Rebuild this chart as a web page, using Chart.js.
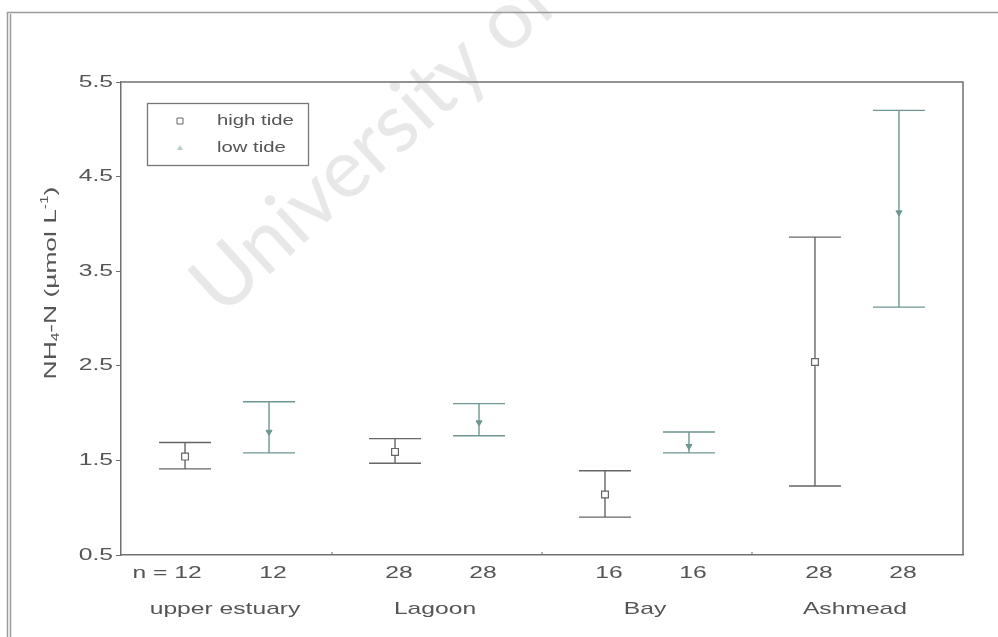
<!DOCTYPE html>
<html>
<head>
<meta charset="utf-8">
<script src="https://cdn.jsdelivr.net/npm/chart.js@4"></script>
<style>
    html, body { margin: 0; padding: 0; background: #fff; }
    #wrap { width: 998px; height: 637px; }
</style>
</head>
<body>
<div id="wrap"><canvas id="chart" width="998" height="637"></canvas></div>
<script>
// --- DATA ---
const sites = ['upper estuary', 'Lagoon', 'Bay', 'Ashmead'];
const nHigh = [12, 28, 16, 28];
const nLow = [12, 28, 16, 28];

const highMean = [1.54, 1.59, 1.14, 2.54];
const highLower = [1.41, 1.47, 0.90, 1.23];
const highUpper = [1.69, 1.73, 1.39, 3.86];

const lowMean = [1.80, 1.90, 1.65, 4.12];
const lowLower = [1.58, 1.76, 1.58, 3.12];
const lowUpper = [2.12, 2.10, 1.80, 5.20];

const yTicks = [0.5, 1.5, 2.5, 3.5, 4.5, 5.5];

// --- STYLE ---
const FONT = "'Liberation Sans', Arial, sans-serif";
const TEXT = '#555';
const AXIS = '#707070';
const HIGH = '#666666';
const LOW = '#6e9792';
const OFFSET = 0.4;   // low tide sits right of high tide inside a site
const CAP = 26;       // half width of the error bar caps, px
const SX = 1.45;      // the scanned lettering is wide, stretch it sideways

const highPts = highMean.map((v, i) => ({ x: i + 1, y: v }));
const lowPts = lowMean.map((v, i) => ({ x: i + 1 + OFFSET, y: v }));

// text drawn wider than the font, to match the scan
function wideText(ctx, text, x, y, align, size, sx = SX) {
    ctx.save();
    ctx.font = size + 'px ' + FONT;
    const w = ctx.measureText(text).width * sx;
    const left = align === 'center' ? x - w / 2 : align === 'right' ? x - w : x;
    ctx.translate(left, y);
    ctx.scale(sx, 1);
    ctx.textAlign = 'left';
    ctx.fillText(text, 0, 0);
    ctx.restore();
    return w;
}

// error bars, drawn under the markers
const errorBars = {
    id: 'errorBars',
    beforeDatasetsDraw(chart) {
        const { ctx, scales: { x, y } } = chart;
        const draw = (pos, lo, hi, color) => {
            const px = x.getPixelForValue(pos);
            const yl = y.getPixelForValue(lo);
            const yh = y.getPixelForValue(hi);
            ctx.beginPath();
            ctx.moveTo(px, yl); ctx.lineTo(px, yh);
            ctx.moveTo(px - CAP, yl); ctx.lineTo(px + CAP, yl);
            ctx.moveTo(px - CAP, yh); ctx.lineTo(px + CAP, yh);
            ctx.strokeStyle = color;
            ctx.lineWidth = 1.4;
            ctx.stroke();
        };
        ctx.save();
        sites.forEach((s, i) => {
            draw(i + 1, highLower[i], highUpper[i], HIGH);
            draw(i + 1 + OFFSET, lowLower[i], lowUpper[i], LOW);
        });
        ctx.restore();
    }
};

// frame, labels, legend, title
const decorations = {
    id: 'decorations',
    beforeDraw(chart) {
        const { ctx } = chart;
        ctx.save();
        // faint watermark of the scanned thesis
        ctx.translate(222, 318);
        ctx.rotate(-0.74);
        ctx.font = "82px Lato, 'Open Sans', sans-serif";
        ctx.fillStyle = '#e8e8e8';
        ctx.textBaseline = 'alphabetic';
        ctx.fillText('University of Cape Town', 0, 0);
        ctx.restore();

        // outer frame (cropped on right and bottom)
        ctx.save();
        ctx.strokeStyle = '#9a9a9a';
        ctx.lineWidth = 1.5;
        ctx.beginPath();
        ctx.moveTo(7.5, 637); ctx.lineTo(7.5, 12.5); ctx.lineTo(998, 12.5);
        ctx.moveTo(10.5, 637); ctx.lineTo(10.5, 14);
        ctx.stroke();
        ctx.restore();
    },
    afterDraw(chart) {
        const { ctx, chartArea: a, scales: { x, y } } = chart;
        ctx.save();

        // top and right sides of the plot box
        ctx.strokeStyle = AXIS;
        ctx.lineWidth = 1.5;
        ctx.beginPath();
        ctx.moveTo(a.left, a.top); ctx.lineTo(a.right, a.top); ctx.lineTo(a.right, a.bottom);
        ctx.stroke();

        // small separators between sites on the bottom axis
        ctx.lineWidth = 1;
        sites.slice(1).forEach((s, i) => {
            const px = x.getPixelForValue(i + 1 + OFFSET + 0.3);
            ctx.beginPath();
            ctx.moveTo(px, a.bottom - 3); ctx.lineTo(px, a.bottom);
            ctx.stroke();
        });

        ctx.fillStyle = TEXT;
        ctx.textBaseline = 'middle';

        // y tick labels
        y.ticks.forEach(t => {
            wideText(ctx, Number(t.value).toFixed(1), a.left - 8, y.getPixelForValue(t.value), 'right', 17);
        });

        // n labels and site names
        sites.forEach((s, i) => {
            const ph = x.getPixelForValue(i + 1);
            const pl = x.getPixelForValue(i + 1 + OFFSET);
            const hText = String(nHigh[i]);
            if (i === 0) {
                ctx.font = '17px ' + FONT;
                const half = ctx.measureText(hText).width * SX / 2;
                wideText(ctx, 'n = ' + hText, ph + 3 + half, 573, 'right', 17);
            } else {
                wideText(ctx, hText, ph + 4, 573, 'center', 17);
            }
            wideText(ctx, String(nLow[i]), pl + 4, 573, 'center', 17);
            wideText(ctx, s, (ph + pl) / 2 - 2, 609, 'center', 17);
        });

        // y axis title: NH4-N (µmol L-1)
        ctx.save();
        ctx.translate(51, 283);
        ctx.rotate(-Math.PI / 2);
        const parts = [
            ['NH', 17, 0], ['4', 10, 5], ['-N (µmol L', 17, 0], ['-1', 10, -6], [')', 17, 0]
        ];
        const ts = 1.55;
        let total = 0;
        parts.forEach(p => { ctx.font = p[1] + 'px ' + FONT; total += ctx.measureText(p[0]).width * ts; });
        let cx = -total / 2;
        parts.forEach(p => {
            cx += wideText(ctx, p[0], cx, p[2], 'left', p[1], ts);
        });
        ctx.restore();
        ctx.restore();

        // legend box inside the plot
        ctx.save();
        ctx.strokeStyle = '#777';
        ctx.lineWidth = 1.3;
        ctx.strokeRect(147.5, 103.5, 161, 62);
        ctx.textBaseline = 'middle';
        chart.data.datasets.forEach((ds, i) => {
            const ly = 121 + i * 27;
            ctx.beginPath();
            if (i === 0) {
                ctx.rect(177, ly - 3, 6, 6);
                ctx.fillStyle = '#fff';
                ctx.fill();
                ctx.strokeStyle = HIGH;
                ctx.lineWidth = 1;
                ctx.stroke();
            } else {
                ctx.moveTo(180, ly - 3); ctx.lineTo(183, ly + 2); ctx.lineTo(177, ly + 2); ctx.closePath();
                ctx.fillStyle = '#b8cfcc';
                ctx.fill();
            }
            ctx.fillStyle = TEXT;
            wideText(ctx, ds.label, 217, ly, 'left', 14);
        });
        ctx.restore();
    }
};

new Chart(document.getElementById('chart'), {
    type: 'scatter',
    data: {
        datasets: [
            {
                label: 'high tide',
                data: highPts,
                pointStyle: 'rect',
                pointRadius: 4.8,
                pointBackgroundColor: '#fff',
                pointBorderColor: HIGH,
                pointBorderWidth: 1.2
            },
            {
                label: 'low tide',
                data: lowPts,
                pointStyle: 'triangle',
                rotation: 180,
                pointRadius: 3.5,
                pointBackgroundColor: LOW,
                pointBorderColor: LOW,
                pointBorderWidth: 1
            }
        ]
    },
    options: {
        responsive: false,
        animation: false,
        layout: { padding: { left: 0, top: 82, right: 35, bottom: 0 } },
        plugins: {
            legend: { display: false },
            tooltip: { enabled: false }
        },
        scales: {
            x: {
                type: 'linear',
                min: 0.695,
                max: 4.705,
                ticks: { display: false },
                grid: { display: false },
                border: { display: true, color: AXIS, width: 1.5 },
                afterFit: (scale) => { scale.height = 82; }
            },
            y: {
                type: 'linear',
                min: 0.5,
                max: 5.5,
                afterBuildTicks: (scale) => { scale.ticks = yTicks.map(v => ({ value: v })); },
                ticks: { display: false },
                grid: { drawOnChartArea: false, drawTicks: true, tickLength: 5, color: AXIS },
                border: { display: true, color: AXIS, width: 1.5 },
                afterFit: (scale) => { scale.width = 121; }
            }
        }
    },
    plugins: [errorBars, decorations]
});
</script>
</body>
</html>
